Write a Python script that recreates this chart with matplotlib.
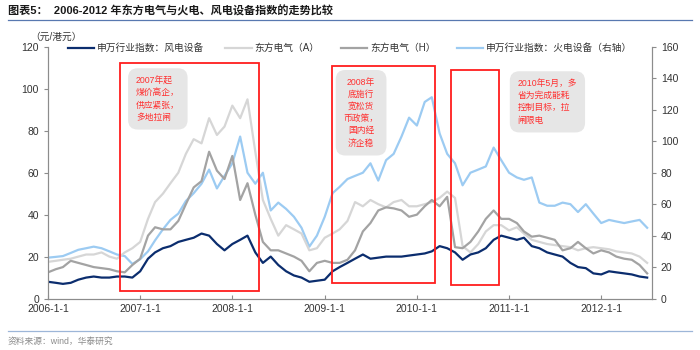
import pandas as pd
import matplotlib
matplotlib.use('Agg')
import matplotlib.pyplot as plt
import matplotlib.dates as mdates
from matplotlib.patches import Rectangle
from matplotlib.lines import Line2D
from matplotlib.ticker import FuncFormatter

plt.rcParams['font.family'] = ['Liberation Sans', 'Noto Sans CJK SC', 'DejaVu Sans']

# monthly readings, 2006-01 .. 2012-07
dates = pd.date_range('2006-01-01', '2012-07-01', freq='MS')

wind_equip = [8, 7.5, 7, 7.5, 9, 10, 10.5, 10, 10, 10.5, 10.5, 10,
              13, 19, 22, 24, 25, 27, 28, 29, 31, 30, 26, 23,
              26, 28, 30, 22, 17, 20, 16, 13, 11, 10, 8, 8.5,
              9, 13, 15, 17, 19, 21, 19, 19.5, 20, 20, 20, 20.5,
              21, 21.5, 22.5, 25, 24, 22, 18.5, 21, 22, 24, 28, 30,
              29, 28, 29, 25, 24, 22, 21, 20, 17, 15, 14.5, 12,
              11.5, 13, 12.5, 12, 11.5, 10.5, 10]

dfe_a = [17.5, 18, 18.5, 19, 20, 21, 21, 22, 20, 19, 22, 24,
         27, 38, 46, 50, 55, 60, 69, 76, 74, 86, 78, 82,
         92, 86, 95, 70, 47, 38, 30, 35, 33, 31, 23, 24,
         29, 31, 33, 37, 46, 44, 47, 45, 43.5, 46, 47, 44,
         44, 45, 46, 48, 51, 48, 25, 22, 26, 32, 35, 35,
         32.5, 34, 31, 28, 27, 26, 25.5, 25, 24.5, 23, 24, 24.5,
         24, 23.5, 22.5, 22, 21.5, 20, 17]

dfe_h = [12.5, 14, 15, 18, 17, 16, 15, 14.5, 14, 13, 12.5, 16,
         19, 30, 34, 33, 33, 37, 45, 53, 56, 70, 61, 57,
         68, 47, 55, 40, 27, 23, 23, 21.5, 20, 18, 13, 17,
         18, 17, 17, 18.5, 23, 32, 36, 42, 43.5, 43, 42, 39,
         40, 44, 47, 44, 48.5, 24.5, 24, 27, 32, 38, 42, 38,
         38, 36, 32, 29.5, 30, 29, 28, 23, 24, 27, 24, 21.5,
         23, 22, 20, 19, 18.5, 16, 12]

thermal_equip = [26, 26.5, 27, 29, 31, 32, 33, 32, 30, 28, 27, 22,
                 25, 30, 37, 44, 50, 54, 62, 67, 73, 82, 70, 78,
                 86, 103, 80, 73, 80, 56, 61, 57, 52, 45, 33, 40,
                 52, 67, 71, 76, 78, 80, 86, 75, 88, 92, 103, 115,
                 110, 125, 128, 105, 92, 86, 72, 80, 82, 84, 96, 88,
                 80, 77, 75.5, 77, 61, 59, 59, 61, 60, 55, 60, 54,
                 48, 50, 49, 48, 49, 50, 45]

labels = ['申万行业指数：风电设备', '东方电气（A）', '东方电气（H）', '申万行业指数：火电设备（右轴）']
colors = ['#0B2D6E', '#D6D6D6', '#A3A3A3', '#9CCBF2']

# (start, end, top, bottom) of the red frames, left-axis units
frames = [('2006-10-15', '2008-04-16', 112.5, 3.7),
          ('2009-01-29', '2010-03-13', 110.7, 7.5),
          ('2010-05-16', '2010-11-23', 109.0, 6.4)]

notes = [('2007-03-12', 95.2, '2007年起\n煤价高企，\n供应紧张，\n多地拉闸', 'left'),
         ('2009-05-25', 88.6, '2008年\n底施行\n宽松货\n币政策，\n国内经\n济企稳', 'center'),
         ('2011-06-02', 93.8, '2010年5月，多\n省为完成能耗\n控制目标，拉\n闸限电', 'left')]

fig = plt.figure(figsize=(7, 3.5), dpi=100)
ax = fig.add_axes([0.0686, 0.147, 0.8624, 0.719])
ax2 = ax.twinx()

l2, = ax2.plot(dates, thermal_equip, color=colors[3], lw=1.6)
l1, = ax.plot(dates, dfe_a, color=colors[1], lw=1.6)
l3, = ax.plot(dates, dfe_h, color=colors[2], lw=1.6)
l0, = ax.plot(dates, wind_equip, color=colors[0], lw=1.6)

ax.set_zorder(ax2.get_zorder() + 1)
ax.patch.set_visible(False)

ax.set_ylim(0, 120)
ax2.set_ylim(0, 160)
ax.set_yticks(range(0, 121, 20))
ax2.set_yticks(range(0, 161, 20))
ax.set_xlim(pd.Timestamp('2006-01-01'), pd.Timestamp('2012-07-19'))
ax.set_xticks(pd.date_range('2006-01-01', '2012-01-01', freq='YS'))
ax.xaxis.set_major_formatter(FuncFormatter(
    lambda v, p: '{0.year}-{0.month}-{0.day}'.format(mdates.num2date(v))))

for a in (ax, ax2):
    for s in a.spines.values():
        s.set_color('#8C8C8C')
    a.spines['top'].set_visible(False)
    a.tick_params(labelsize=7.5, colors='#333333', length=3, width=0.8)
ax.tick_params(axis='x', direction='in', length=3, color='#8C8C8C', pad=4)
ax.tick_params(axis='y', color='#8C8C8C')
ax2.tick_params(axis='y', color='#8C8C8C')

for start, end, top, bottom in frames:
    x0 = mdates.date2num(pd.Timestamp(start))
    x1 = mdates.date2num(pd.Timestamp(end))
    ax.add_patch(Rectangle((x0, bottom), x1 - x0, top - bottom, fill=False,
                           ec='#FF1E1E', lw=1.3, zorder=5, clip_on=False))

for d, y, txt, al in notes:
    ax.text(pd.Timestamp(d), y, txt, ha='center', va='center', multialignment=al,
            fontsize=6.3, color='#FF3030', linespacing=1.45, zorder=6,
            bbox=dict(boxstyle='round,pad=0.9,rounding_size=1.1', fc='#E6E6E6', ec='none'))

fig.legend([l0, l1, l3, l2], labels, loc='center', bbox_to_anchor=(0.5, 1 - 48 / 350),
           ncol=4, frameon=False, fontsize=7, handlelength=2.7, columnspacing=2.2,
           handletextpad=0.3, labelcolor='#333333')

fig.text(0.043, 1 - 37 / 350, '（元/港元）', fontsize=7, color='#333333', va='center')
fig.text(0.011, 1 - 11 / 350, '图表5：  2006-2012 年东方电气与火电、风电设备指数的走势比较',
         fontsize=8, fontweight='bold', color='#1A1A1A', va='center')
fig.add_artist(Line2D([0.011, 0.989], [1 - 20 / 350] * 2, color='#5878B0', lw=0.9))
fig.add_artist(Line2D([0.011, 0.989], [1 - 331 / 350] * 2, color='#9DB6D8', lw=0.9))
fig.text(0.011, 1 - 341 / 350, '资料来源：wind，华泰研究', fontsize=6.3, color='#8C8C8C', va='center')

fig.savefig('out.png', dpi=100)
